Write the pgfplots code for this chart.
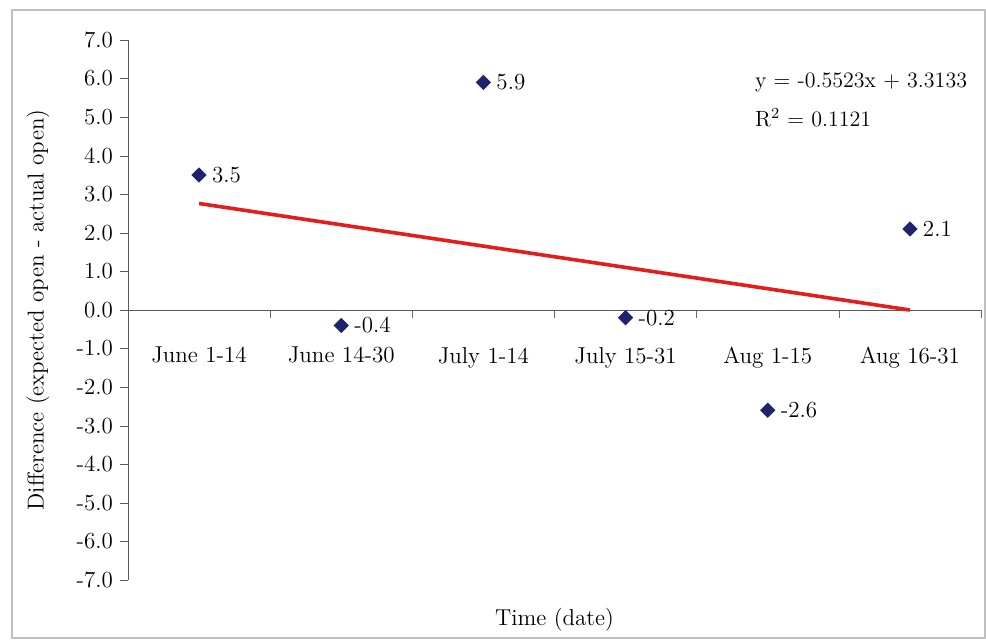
\documentclass[border=0pt]{standalone}
\usepackage{pgfplots}
\pgfplotsset{compat=1.18}
\begin{document}
\begin{tikzpicture}
\definecolor{navy}{RGB}{31,35,110}
\definecolor{trend}{RGB}{228,28,28}
\path[use as bounding box] (-64pt,-31pt) rectangle (429pt,290pt);
\draw[gray!50, line width=0.8pt] (-58pt,-29pt) rectangle (428.5pt,285pt);
\begin{axis}[
  at={(0pt,0pt)}, anchor=south west,
  scale only axis, width=426.5pt, height=270pt,
  xmin=0.5, xmax=6.5, ymin=-7, ymax=7,
  axis x line=middle, axis y line=left,
  axis line style={black!65, -},
  hide obscured x ticks=false, hide obscured y ticks=false,
  tick align=outside,
  major tick length=4pt, minor tick length=4pt,
  xtick={1,2,3,4,5,6},
  xticklabels={June 1-14, June 14-30, July 1-14, July 15-31, Aug 1-15, Aug 16-31},
  major x tick style={draw=none},
  minor xtick={0.5,1.5,2.5,3.5,4.5,5.5,6.5},
  minor x tick style={black!60},
  ytick={-7,-6,-5,-4,-3,-2,-1,0,1,2,3,4,5,6,7},
  y tick style={black!65},
  /pgf/number format/assume math mode=true,
  yticklabel style={/pgf/number format/.cd, fixed, fixed zerofill, precision=1},
  tick label style={font=\fontsize{11.5}{13}\selectfont},
  xticklabel style={anchor=north, yshift=-11pt},
  label style={font=\fontsize{11.5}{13}\selectfont},
  xlabel={Time (date)},
  xlabel style={at={(rel axis cs:0.5,0)}, anchor=center, yshift=-20pt},
  ylabel={Difference (expected open - actual open)},
  ylabel style={at={(rel axis cs:0,0.5)}, anchor=center, yshift=45pt},
  clip=false,
]
\addplot[trend, line width=1.8pt, no marks] coordinates {(1,2.7610) (6,-0.0005)};
\addplot[only marks, mark=square*, mark options={rotate=45}, mark size=2.5pt, color=navy,
  point meta=explicit symbolic,
  nodes near coords,
  nodes near coords style={anchor=west, xshift=3pt, text=black, font=\fontsize{11.5}{13}\selectfont}]
  coordinates {
    (1,3.5) [3.5]
    (2,-0.4) [-0.4]
    (3,5.9) [5.9]
    (4,-0.2) [-0.2]
    (5,-2.6) [-2.6]
    (6,2.1) [2.1]
  };
\node[anchor=west, font=\fontsize{11}{13}\selectfont] at (rel axis cs:0.727,0.922) {y = -0.5523x + 3.3133};
\node[anchor=west, font=\fontsize{11}{13}\selectfont] at (rel axis cs:0.727,0.857) {R\textsuperscript{2} = 0.1121};
\end{axis}
\end{tikzpicture}
\end{document}
